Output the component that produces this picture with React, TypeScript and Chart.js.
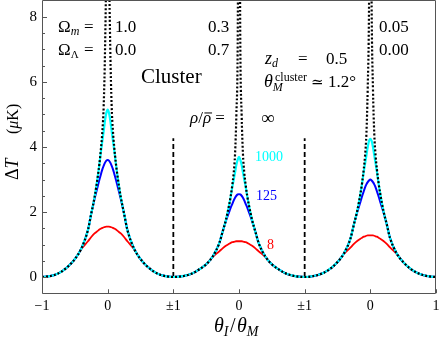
import React, { useEffect, useRef } from "react";
import { Chart, registerables } from "chart.js";
Chart.register(...registerables);

// half-profile abscissae (distance from panel centre, in units of theta_M)
const halfU = [0, 0.02, 0.04, 0.06, 0.08, 0.1, 0.125, 0.15, 0.2, 0.25, 0.3, 0.4, 0.5, 0.6, 0.7, 0.8, 0.9, 1.0];
const panelCenters = [1, 3, 5];

// Panel 1: Omega_m = 1.0, Omega_L = 0.0
const infP1 = [16, 10, 7.0, 5.3, 4.5, 4.0, 3.5, 3.1, 2.45, 1.95, 1.45, 0.88, 0.55, 0.33, 0.17, 0.07, 0.02, 0];
const r1000P1 = [5.15, 5.05, 4.82, 4.5, 4.2, 3.9, 3.48, 3.1, 2.45, 1.95, 1.45, 0.88, 0.55, 0.33, 0.17, 0.07, 0.02, 0];
const r125P1 = [3.6, 3.58, 3.52, 3.43, 3.32, 3.18, 3.0, 2.8, 2.4, 1.95, 1.45, 0.88, 0.55, 0.33, 0.17, 0.07, 0.02, 0];
const r8P1 = [1.55, 1.55, 1.54, 1.53, 1.51, 1.49, 1.46, 1.42, 1.34, 1.23, 1.1, 0.86, 0.55, 0.33, 0.17, 0.07, 0.02, 0];

// Panel 2: Omega_m = 0.3, Omega_L = 0.7
const infP2 = [16, 7.15, 5.0, 3.79, 3.22, 2.86, 2.5, 2.22, 1.75, 1.39, 1.04, 0.63, 0.39, 0.24, 0.12, 0.05, 0.014, 0];
const r1000P2 = [3.7, 3.61, 3.45, 3.22, 3.0, 2.79, 2.49, 2.22, 1.75, 1.39, 1.04, 0.63, 0.39, 0.24, 0.12, 0.05, 0.014, 0];
const r125P2 = [2.55, 2.54, 2.5, 2.44, 2.36, 2.26, 2.14, 2.0, 1.72, 1.39, 1.04, 0.63, 0.39, 0.24, 0.12, 0.05, 0.014, 0];
const r8P2 = [1.1, 1.1, 1.1, 1.09, 1.08, 1.07, 1.05, 1.02, 0.96, 0.88, 0.79, 0.62, 0.39, 0.24, 0.12, 0.05, 0.014, 0];

// Panel 3: Omega_m = 0.05, Omega_L = 0.00
const infP3 = [16, 8.3, 5.8, 4.4, 3.74, 3.32, 2.9, 2.57, 2.03, 1.62, 1.2, 0.73, 0.46, 0.27, 0.14, 0.06, 0.017, 0];
const r1000P3 = [4.25, 4.19, 4.0, 3.74, 3.49, 3.24, 2.89, 2.57, 2.03, 1.62, 1.2, 0.73, 0.46, 0.27, 0.14, 0.06, 0.017, 0];
const r125P3 = [3.0, 2.97, 2.92, 2.85, 2.76, 2.64, 2.49, 2.32, 1.99, 1.62, 1.2, 0.73, 0.46, 0.27, 0.14, 0.06, 0.017, 0];
const r8P3 = [1.28, 1.28, 1.28, 1.27, 1.25, 1.24, 1.21, 1.18, 1.11, 1.02, 0.91, 0.71, 0.46, 0.27, 0.14, 0.06, 0.017, 0];

const dividerX = [2, 4];
const dividerY = [0, 4.27];

const xTickValues = [0, 1, 2, 3, 4, 5, 6];
const xTickLabels = ["\u22121", "0", "\u00b11", "0", "\u00b11", "0", "1"];
const yTickValues = [0, 2, 4, 6, 8];
const yTickLabels = ["0", "2", "4", "6", "8"];

const FF = '"Liberation Serif", "Times New Roman", "DejaVu Serif", serif';
const fnt = (s: number, i = false) => `${i ? "italic " : ""}${s}px ${FF}`;

type Pt = { x: number; y: number };
function mirror(center: number, half: number[]): Pt[] {
  const pts: Pt[] = [];
  for (let i = halfU.length - 1; i >= 1; i--) pts.push({ x: center - halfU[i], y: half[i] });
  for (let i = 0; i < halfU.length; i++) pts.push({ x: center + halfU[i], y: half[i] });
  return pts;
}
function joinPanels(panels: number[][]): Pt[] {
  let out: Pt[] = [];
  panels.forEach((p, k) => {
    const pts = mirror(panelCenters[k], p);
    out = out.concat(k === 0 ? pts : pts.slice(1));
  });
  return out;
}

type Part = { t: string; s: number; i?: boolean; dy?: number; c?: string; bar?: boolean; gap?: number };
function rich(ctx: CanvasRenderingContext2D, x: number, y: number, parts: Part[]) {
  let cx = x;
  ctx.textAlign = "left";
  ctx.textBaseline = "alphabetic";
  for (const p of parts) {
    ctx.font = fnt(p.s, p.i);
    ctx.fillStyle = p.c || "#000";
    ctx.fillText(p.t, cx, y + (p.dy || 0));
    const w = ctx.measureText(p.t).width;
    if (p.bar) ctx.fillRect(cx + 1.5, y - p.s * 0.62, w - 0.5, 1);
    cx += w + (p.gap || 0);
  }
  return cx;
}

const decorPlugin = {
  id: "decor",
  afterDatasetsDraw(chart: any) {
    const ctx: CanvasRenderingContext2D = chart.ctx;
    const { left, right, top, bottom } = chart.chartArea;
    const xs = chart.scales.x;
    const ys = chart.scales.y;
    ctx.save();
    // frame
    ctx.strokeStyle = "#555";
    ctx.lineWidth = 1;
    ctx.beginPath();
    ctx.rect(Math.round(left) + 0.5, Math.round(top) - 0.5, Math.round(right) - Math.round(left) - 1, Math.round(bottom) - Math.round(top) + 1);
    ctx.stroke();
    // y ticks (inward)
    ctx.beginPath();
    for (let v = 0; v <= 8.001; v += 0.5) {
      const py = Math.round(ys.getPixelForValue(v)) + 0.5;
      const len = Math.abs(v % 2) < 1e-6 ? 5 : 3;
      ctx.moveTo(left, py);
      ctx.lineTo(left + len, py);
    }
    // x ticks
    xTickValues.forEach((v) => {
      const px = Math.round(xs.getPixelForValue(v)) + 0.5;
      ctx.moveTo(px, bottom);
      ctx.lineTo(px, bottom - 4);
    });
    ctx.stroke();

    // tick labels
    ctx.fillStyle = "#000";
    ctx.font = fnt(15);
    ctx.textAlign = "right";
    ctx.textBaseline = "middle";
    yTickValues.forEach((v, i) => ctx.fillText(yTickLabels[i], 37, ys.getPixelForValue(v)));
    ctx.font = fnt(14);
    ctx.textAlign = "center";
    ctx.textBaseline = "top";
    xTickValues.forEach((v, i) => ctx.fillText(xTickLabels[i], xs.getPixelForValue(v), 299));

    // axis titles
    rich(ctx, 214, 332, [
      { t: "\u03b8", s: 20, i: true },
      { t: "I", s: 14, i: true, dy: 4, gap: 1.5 },
      { t: "/", s: 20, gap: 1.5 },
      { t: "\u03b8", s: 20, i: true },
      { t: "M", s: 14, i: true, dy: 4 },
    ]);
    ctx.save();
    ctx.translate(18, 180);
    ctx.rotate(-Math.PI / 2);
    rich(ctx, 0, 0, [
      { t: "\u0394", s: 18 },
      { t: "T", s: 18, i: true },
    ]);
    rich(ctx, 46, 0, [
      { t: "(", s: 16 },
      { t: "\u03bc", s: 16, i: true },
      { t: "K)", s: 16 },
    ]);
    ctx.restore();

    // annotations
    rich(ctx, 58, 32, [{ t: "\u03a9", s: 17 }, { t: "m", s: 12, i: true, dy: 3 }]);
    rich(ctx, 84, 32, [{ t: "=", s: 17 }]);
    rich(ctx, 58, 55, [{ t: "\u03a9", s: 17 }, { t: "\u039b", s: 11, dy: 3 }]);
    rich(ctx, 84, 55, [{ t: "=", s: 17 }]);
    rich(ctx, 115, 32, [{ t: "1.0", s: 17 }]);
    rich(ctx, 115, 55, [{ t: "0.0", s: 17 }]);
    rich(ctx, 208, 32, [{ t: "0.3", s: 17 }]);
    rich(ctx, 208, 55, [{ t: "0.7", s: 17 }]);
    rich(ctx, 379, 32, [{ t: "0.05", s: 17 }]);
    rich(ctx, 379, 55, [{ t: "0.00", s: 17 }]);
    rich(ctx, 141, 83, [{ t: "Cluster", s: 21 }]);
    rich(ctx, 265, 64, [{ t: "z", s: 18, i: true }, { t: "d", s: 12, i: true, dy: 3 }]);
    rich(ctx, 298, 64, [{ t: "=", s: 17 }]);
    rich(ctx, 326, 64, [{ t: "0.5", s: 17 }]);
    rich(ctx, 264, 87, [{ t: "\u03b8", s: 18, i: true }, { t: "M", s: 12, i: true, dy: 4 }]);
    rich(ctx, 275, 81, [{ t: "cluster", s: 12 }]);
    rich(ctx, 311, 87, [{ t: "\u2243", s: 15 }]);
    rich(ctx, 328, 87, [{ t: "1.2\u00b0", s: 17 }]);
    rich(ctx, 190, 123, [
      { t: "\u03c1", s: 17, i: true },
      { t: "/", s: 17 },
      { t: "\u03c1", s: 17, i: true, bar: true },
      { t: " =", s: 17 },
    ]);
    rich(ctx, 261, 124, [{ t: "\u221e", s: 19 }]);
    rich(ctx, 255, 161, [{ t: "1000", s: 14, c: "#00ffff" }]);
    rich(ctx, 256, 200, [{ t: "125", s: 14, c: "#0000ff" }]);
    rich(ctx, 267, 249, [{ t: "8", s: 14, c: "#ff0000" }]);
    ctx.restore();
  },
};

export default function App() {
  const ref = useRef<HTMLCanvasElement | null>(null);
  useEffect(() => {
    document.body.style.margin = "0";
    if (!ref.current) return;
    const line = (data: Pt[], color: string, width: number, dash: number[] = []) => ({
      data,
      borderColor: color,
      borderWidth: width,
      borderDash: dash,
      pointRadius: 0,
      fill: false,
      cubicInterpolationMode: "monotone" as const,
      borderCapStyle: "butt" as const,
    });
    const chart = new Chart(ref.current, {
      type: "line",
      data: {
        datasets: [
          line(joinPanels([infP1, infP2, infP3]), "#000", 2.2, [2, 2]),
          line(joinPanels([r1000P1, r1000P2, r1000P3]), "#00ffff", 2.2),
          line(joinPanels([r125P1, r125P2, r125P3]), "#0000ff", 2),
          line(joinPanels([r8P1, r8P2, r8P3]), "#ff0000", 1.8),
          ...dividerX.map((x) => ({
            data: dividerY.map((y) => ({ x, y })),
            borderColor: "#000",
            borderWidth: 1.8,
            borderDash: [5, 3],
            pointRadius: 0,
            fill: false,
          })),
        ] as any,
      },
      options: {
        responsive: false,
        animation: false,
        parsing: false as any,
        layout: { padding: { left: 42, right: 4, top: 0.75, bottom: 45.75 } },
        plugins: { legend: { display: false }, tooltip: { enabled: false } },
        scales: {
          x: { type: "linear", min: 0, max: 6, display: false },
          y: { type: "linear", min: -0.5, max: 8.5, display: false },
        },
      },
      plugins: [decorPlugin],
    });
    return () => chart.destroy();
  }, []);
  return (
    <div style={{ width: 440, height: 339, position: "relative" }}>
      <canvas ref={ref} width={440} height={339} style={{ display: "block" }} />
    </div>
  );
}
